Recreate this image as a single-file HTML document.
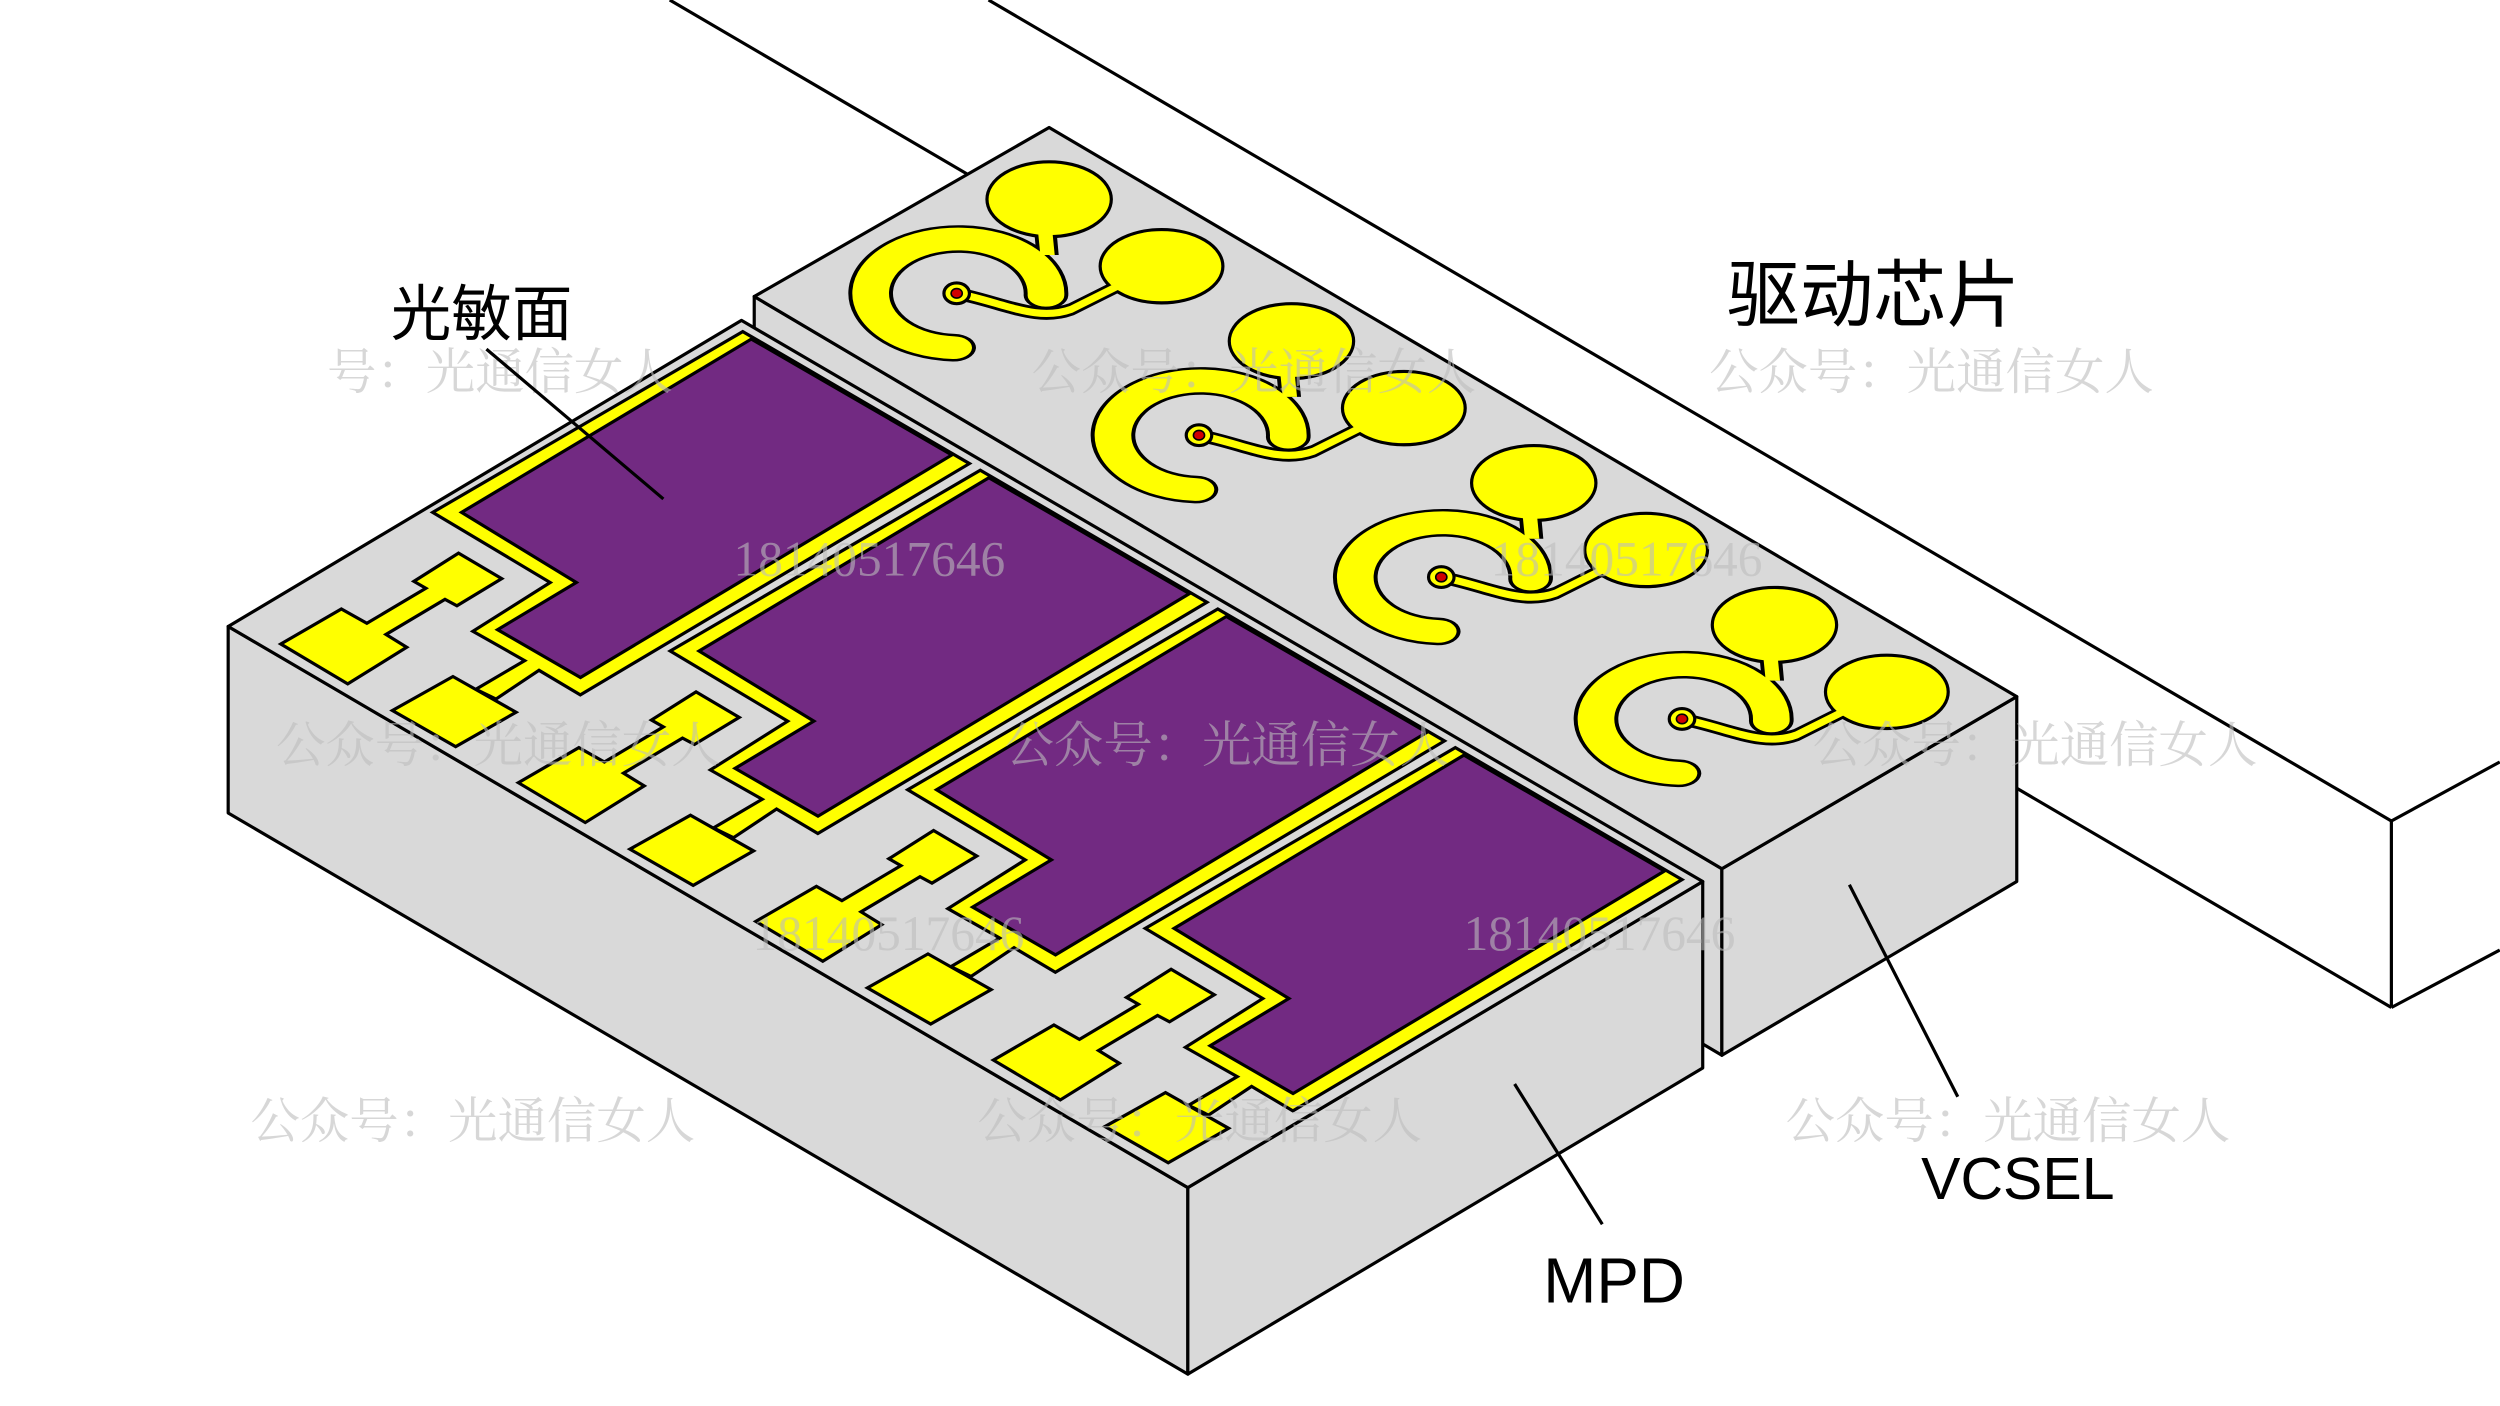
<!DOCTYPE html>
<html><head><meta charset="utf-8"><style>html,body{margin:0;padding:0;background:#fff}svg{display:block}</style></head>
<body>
<svg width="2500" height="1406" viewBox="0 0 1568 882" xmlns="http://www.w3.org/2000/svg">
<defs>
<g id="pad">
  <polygon points="271.3,321.4 465.8,208 608,290.8 363.9,435.9 338,420.5 311,438.5 298.4,432.4 329,414.4 296.5,396 345,365.4" fill="#ffff00" stroke="#000" stroke-width="2" stroke-linejoin="miter"/>
  <polygon points="289.4,321.4 471.2,212.7 597,285.4 364,425 312,395 361.4,365.4" fill="#722a82" stroke="#000" stroke-width="2"/>
  <polygon points="176,404 214,382 230,391 267,369 259.5,364.7 287.5,347 314.6,363 286.5,380 279,376 242,398 255,406 218,429" fill="#ffff00" stroke="#000" stroke-width="2"/>
  <polygon points="246,445.7 284,424.4 323.6,446.8 285.7,468.4" fill="#ffff00" stroke="#000" stroke-width="2"/>
</g>
<g id="vc">
  <g transform="translate(600,184) scale(1,0.62)">
    <path d="M56,2 A55,55 0 1 0 -1.9,55" fill="none" stroke="#000" stroke-width="28" stroke-linecap="round"/>
  </g>
  <path d="M600,184 C630,190 650,202 672,194 L702,179" fill="none" stroke="#000" stroke-width="8" stroke-linecap="round"/>
  <polygon points="648,138 662,138 664,160 650,160" fill="#000"/>
  <ellipse cx="658" cy="125" rx="39" ry="23.5" fill="#ffff00" stroke="#000" stroke-width="2"/>
  <ellipse cx="728.5" cy="167" rx="38.5" ry="23" fill="#ffff00" stroke="#000" stroke-width="2"/>
  <g transform="translate(600,184) scale(1,0.62)">
    <path d="M56,2 A55,55 0 1 0 -1.9,55" fill="none" stroke="#ffff00" stroke-width="23" stroke-linecap="round"/>
  </g>
  <polygon points="650.5,140 659.5,140 661.5,160 652.5,160" fill="#ffff00"/>
  <path d="M600,184 C630,190 650,202 672,194 L702,179" fill="none" stroke="#ffff00" stroke-width="4.5" stroke-linecap="round"/>
  <ellipse cx="600" cy="184" rx="8" ry="6.5" fill="#ffff00" stroke="#000" stroke-width="2"/>
  <ellipse cx="600" cy="184" rx="3.5" ry="3" fill="#d00000" stroke="#000" stroke-width="1"/>
</g>
</defs>

<g stroke="#000" stroke-width="2" fill="#fff">
  <polygon points="620,0 1500,515 1568,478 1568,596 1500,632 420,0" fill="#fff" stroke="none"/>
  <line x1="420" y1="0" x2="1500" y2="632"/>
  <line x1="620" y1="0" x2="1500" y2="515"/>
  <line x1="1500" y1="515" x2="1500" y2="632"/>
  <line x1="1500" y1="515" x2="1568" y2="478"/>
  <line x1="1500" y1="632" x2="1568" y2="596"/>
</g>

<g stroke="#000" stroke-width="2" fill="#d9d9d9" stroke-linejoin="round">
  <polygon points="473,186 1080,545 1080,662 473,303"/>
  <polygon points="1080,545 1265,437 1265,553 1080,662"/>
  <polygon points="473,186 658,80 1265,437 1080,545"/>
</g>
<use href="#vc"/>
<use href="#vc" transform="translate(152,89)"/>
<use href="#vc" transform="translate(304,178)"/>
<use href="#vc" transform="translate(455,267)"/>

<g stroke="#000" stroke-width="2" fill="#d9d9d9" stroke-linejoin="round">
  <polygon points="143,393 745,745 745,862 143,510"/>
  <polygon points="745,745 1068,553 1068,670 745,862"/>
  <polygon points="143,393 465,201 1068,553 745,745"/>
</g>
<use href="#pad"/>
<use href="#pad" transform="translate(149,87)"/>
<use href="#pad" transform="translate(298,174)"/>
<use href="#pad" transform="translate(447,261)"/>

<g font-family="'Liberation Serif','Noto Serif CJK SC',serif" font-size="31" fill="#bdbdbd" fill-opacity="0.6">
  <text x="205" y="244">号：光通信女人</text>
  <text x="647" y="244">公众号：光通信女人</text>
  <text x="1072" y="244">公众号：光通信女人</text>
  <text x="173" y="478">公众号：光通信女人</text>
  <text x="630" y="478">公众号：光通信女人</text>
  <text x="1137" y="478">公众号：光通信女人</text>
  <text x="157" y="714">公众号：光通信女人</text>
  <text x="613" y="714">公众号：光通信女人</text>
  <text x="1120" y="714">公众号：光通信女人</text>
  <text x="460" y="361">18140517646</text>
  <text x="935" y="361">18140517646</text>
  <text x="472" y="596">18140517646</text>
  <text x="918" y="596">18140517646</text>
</g>

<g stroke="#000" stroke-width="2">
  <line x1="305" y1="219" x2="416" y2="313"/>
  <line x1="1160" y1="555" x2="1228" y2="688"/>
  <line x1="950" y1="680" x2="1005" y2="768"/>
</g>
<g font-family="'Liberation Sans','Noto Sans CJK SC',sans-serif" fill="#000">
  <text x="245" y="210" font-size="38">光敏面</text>
  <text x="1083" y="201" font-size="46">驱动芯片</text>
  <text x="1205" y="752" font-size="37">VCSEL</text>
  <text x="968" y="817" font-size="40">MPD</text>
</g>
</svg>
</body></html>
